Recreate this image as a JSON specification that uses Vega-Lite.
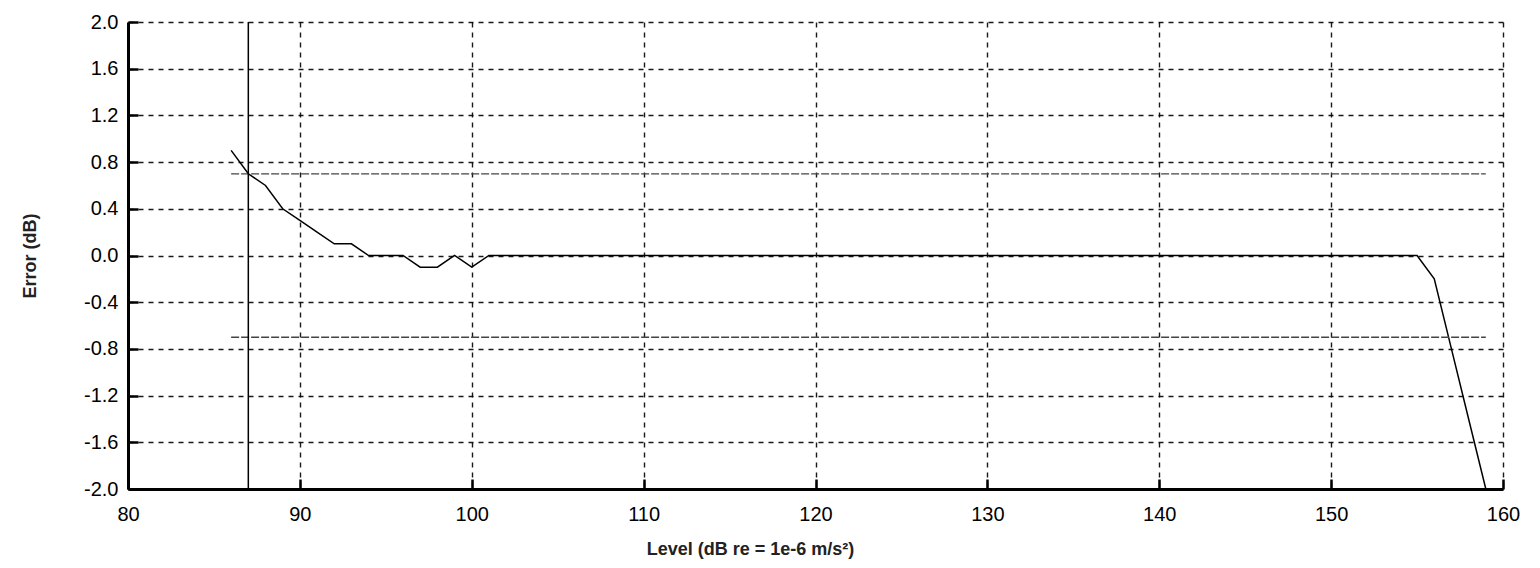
{
  "$schema": "https://vega.github.io/schema/vega-lite/v6.json",
  "width": 1375,
  "height": 467,
  "autosize": {"type": "none"},
  "padding": {"left": 128, "top": 22, "right": 37, "bottom": 79},
  "background": "white",
  "config": {
    "view": {"stroke": null},
    "font": "Liberation Sans",
    "axis": {
      "domain": true,
      "ticks": true,
      "domainColor": "black",
      "domainWidth": 3,
      "tickColor": "black",
      "tickWidth": 2.5,
      "tickSize": -10,
      "labelFlush": false,
      "labelFont": "Liberation Sans",
      "labelFontSize": 20,
      "labelColor": "black",
      "titleFont": "Liberation Sans",
      "titleFontSize": 18,
      "titleFontWeight": "bold",
      "titleColor": "#222",
      "grid": true,
      "gridColor": "black",
      "gridDash": [5, 5],
      "gridWidth": 1.4,
      "gridOpacity": 0.9
    }
  },
  "datasets": {
    "curve": [
      {"level": 86, "error": 0.9},
      {"level": 87, "error": 0.7},
      {"level": 88, "error": 0.6},
      {"level": 89, "error": 0.4},
      {"level": 90, "error": 0.3},
      {"level": 91, "error": 0.2},
      {"level": 92, "error": 0.1},
      {"level": 93, "error": 0.1},
      {"level": 94, "error": 0.0},
      {"level": 95, "error": 0.0},
      {"level": 96, "error": 0.0},
      {"level": 97, "error": -0.1},
      {"level": 98, "error": -0.1},
      {"level": 99, "error": 0.0},
      {"level": 100, "error": -0.1},
      {"level": 101, "error": 0.0},
      {"level": 155, "error": 0.0},
      {"level": 156, "error": -0.2},
      {"level": 157, "error": -0.8},
      {"level": 158, "error": -1.4},
      {"level": 159, "error": -2.0}
    ],
    "limits": [
      {"start": 86, "end": 159, "limit": 0.7},
      {"start": 86, "end": 159, "limit": -0.7}
    ],
    "marker": [
      {"level": 87}
    ]
  },
  "layer": [
    {
      "data": {"name": "curve"},
      "mark": {"type": "line", "color": "black", "strokeWidth": 1.5, "clip": true},
      "encoding": {
        "x": {
          "field": "level", "type": "quantitative",
          "scale": {"domain": [80, 160], "nice": false, "zero": false},
          "axis": {
            "values": [80, 90, 100, 110, 120, 130, 140, 150, 160],
            "title": "Level (dB re = 1e-6 m/s²)",
            "labelPadding": 25,
            "titlePadding": 16,
            "titleX": 622,
            "titleAnchor": null
          }
        },
        "y": {
          "field": "error", "type": "quantitative",
          "scale": {"domain": [-2, 2], "nice": false, "zero": false},
          "axis": {
            "values": [-2, -1.6, -1.2, -0.8, -0.4, 0, 0.4, 0.8, 1.2, 1.6, 2],
            "labelExpr": "(datum.value < 0 ? '-' : '') + format(abs(datum.value), '.1f')",
            "title": "Error (dB)",
            "labelPadding": 20,
            "titlePadding": 44
          }
        }
      }
    },
    {
      "data": {"name": "limits"},
      "mark": {"type": "rule", "color": "#444", "strokeWidth": 1.3, "strokeDash": [8, 2]},
      "encoding": {
        "x": {"field": "start", "type": "quantitative"},
        "x2": {"field": "end"},
        "y": {"field": "limit", "type": "quantitative"}
      }
    },
    {
      "data": {"name": "marker"},
      "mark": {"type": "rule", "color": "black", "strokeWidth": 1.5},
      "encoding": {
        "x": {"field": "level", "type": "quantitative"}
      }
    }
  ]
}
